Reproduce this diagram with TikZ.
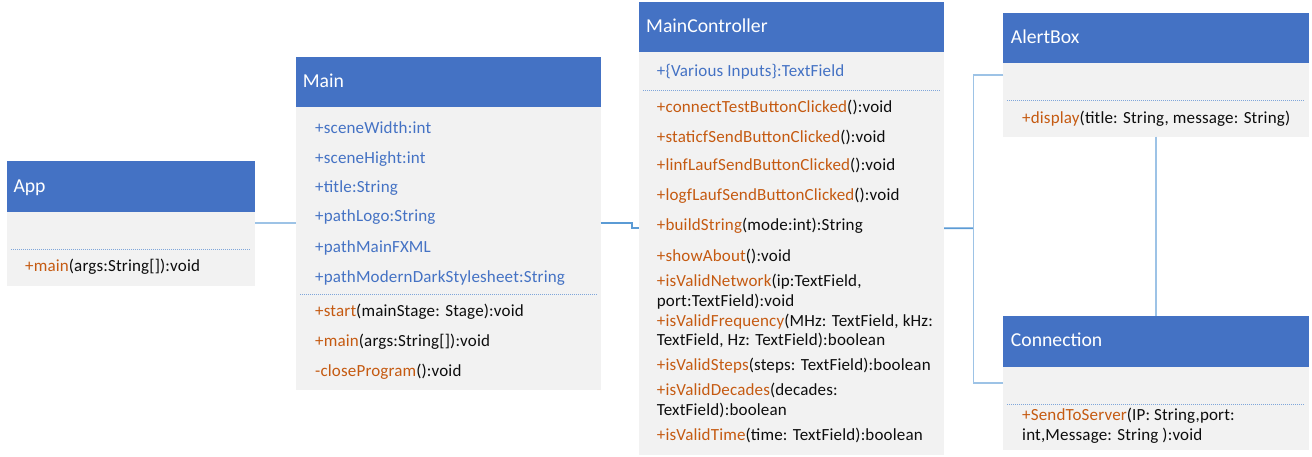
\documentclass[tikz,border=0pt]{standalone}
\usepackage{fontspec}
\setmainfont{Carlito}
\newfontfamily\memfont{Carlito}[LetterSpace=1]
\definecolor{hdrc}{HTML}{4472C4}
\definecolor{bodyc}{HTML}{F2F2F2}
\definecolor{attrc}{HTML}{4472C4}
\definecolor{methc}{HTML}{C55A11}
\definecolor{txtc}{HTML}{0D0D0D}
\definecolor{linelt}{HTML}{9DC3E6}
\definecolor{linemd}{HTML}{5B9BD5}
\definecolor{dotc}{HTML}{7FA6DA}
\newcommand{\mn}[1]{\textcolor{methc}{#1}}
\tikzset{
  x=1pt, y=-1pt,
  bodybox/.style={fill=bodyc, draw=none, anchor=north west, inner sep=0pt, outer sep=0pt},
  hdrbox/.style={fill=hdrc, draw=none, anchor=north west, inner sep=0pt, outer sep=0pt},
  htext/.style={anchor=base west, inner sep=0pt, text=white, font=\fontsize{19.7}{21}\selectfont},
  atext/.style={anchor=base west, inner sep=0pt, text=attrc, font=\memfont\fontsize{17}{19}\selectfont},
  mtext/.style={anchor=base west, inner sep=0pt, text=txtc, font=\memfont\fontsize{17}{19}\selectfont},
  sepline/.style={draw=dotc, line width=0.8pt, dash pattern=on 1pt off 1pt},
  linkl/.style={draw=linelt, line width=1.8pt},
  linkm/.style={draw=linemd, line width=1.8pt},
}
\begin{document}
\begin{tikzpicture}
\useasboundingbox (0,0) rectangle (1312,457);
\fill[white] (0,0) rectangle (1312,457);

% ---------- boxes ----------
\node[bodybox, minimum width=248.3pt, minimum height=124.7pt] (app) at (6.7,161) {};
\node[hdrbox, minimum width=248.3pt, minimum height=51.3pt] (apph) at (6.7,161) {};
\node[bodybox, minimum width=304.7pt, minimum height=333.3pt] (main) at (296,56.7) {};
\node[hdrbox, minimum width=304.7pt, minimum height=50.6pt] (mainh) at (296,56.7) {};
\node[bodybox, minimum width=305pt, minimum height=452.7pt] (mc) at (639,2) {};
\node[hdrbox, minimum width=305pt, minimum height=50.3pt] (mch) at (639,2) {};
\node[bodybox, minimum width=305.2pt, minimum height=124pt] (alert) at (1003.3,12.7) {};
\node[hdrbox, minimum width=305.2pt, minimum height=50.6pt] (alerth) at (1003.3,12.7) {};
\node[bodybox, minimum width=305.2pt, minimum height=134.3pt] (conn) at (1003.3,315.7) {};
\node[hdrbox, minimum width=305.2pt, minimum height=51pt] (connh) at (1003.3,315.7) {};

% ---------- connectors ----------
\draw[linkl] (app.east) -- (main.west);
\draw[linkm] (main.east) -- ++(31.5,0) |- (mc.west);
\coordinate (junc) at (973.5,228.3);
\draw[linkm] (mc.east) -- (junc);
\draw[linkl] (alert.west) -| (junc) |- (conn.west);
\draw[linkl] (alert.south) -- (conn.north);

% ---------- App ----------
\node[htext] (appt) at (13.3,192.3) {App};
\draw[sepline] (11,249.3) -- (251,249.3);
\node[mtext] (appm1) at (25,271.7) {\mn{+main}(args:String[]):void};

% ---------- Main ----------
\node[htext] (maint) at (302.7,88) {Main};
\node[atext] (maina1) at (315,133.3) {+sceneWidth:int};
\node[atext] (maina2) at (315,163.3) {+sceneHight:int};
\node[atext] (maina3) at (315,192.7) {+title:String};
\node[atext] (maina4) at (315,222) {+pathLogo:String};
\node[atext] (maina5) at (315,252) {+pathMainFXML};
\node[atext] (maina6) at (315,282.3) {+pathModernDarkStylesheet:String};
\draw[sepline] (300,294.3) -- (597,294.3);
\node[mtext] (mainm1) at (315,316.7) {\mn{+start}(mainStage: Stage):void};
\node[mtext] (mainm2) at (315,346) {\mn{+main}(args:String[]):void};
\node[mtext] (mainm3) at (315,376) {\mn{-closeProgram}():void};

% ---------- MainController ----------
\node[htext] (mct) at (646,32.3) {MainController};
\node[atext] (mca1) at (656.7,77) {+\{Various Inputs\}:TextField};
\draw[sepline] (643,90) -- (940,90);
\node[mtext] (mcm1) at (656.7,112.7) {\mn{+connectTestButtonClicked}():void};
\node[mtext] (mcm2) at (656.7,142.3) {\mn{+staticfSendButtonClicked}():void};
\node[mtext] (mcm3) at (656.7,171) {\mn{+linfLaufSendButtonClicked}():void};
\node[mtext] (mcm4) at (656.7,200.7) {\mn{+logfLaufSendButtonClicked}():void};
\node[mtext] (mcm5) at (656.7,231) {\mn{+buildString}(mode:int):String};
\node[mtext] (mcm6) at (656.7,261.7) {\mn{+showAbout}():void};
\node[mtext] (mcm7a) at (656.7,286.7) {\mn{+isValidNetwork}(ip:TextField,};
\node[mtext] (mcm7b) at (656.7,306) {port:TextField):void};
\node[mtext] (mcm8a) at (656.7,326.7) {\mn{+isValidFrequency}(MHz: TextField, kHz:};
\node[mtext] (mcm8b) at (656.7,345) {TextField, Hz: TextField):boolean};
\node[mtext] (mcm9) at (656.7,370.7) {\mn{+isValidSteps}(steps: TextField):boolean};
\node[mtext] (mcm10a) at (656.7,395.7) {\mn{+isValidDecades}(decades:};
\node[mtext] (mcm10b) at (656.7,415) {TextField):boolean};
\node[mtext] (mcm11) at (656.7,440.7) {\mn{+isValidTime}(time: TextField):boolean};

% ---------- AlertBox ----------
\node[htext] (alertt) at (1010.7,44) {AlertBox};
\draw[sepline] (1007,100.7) -- (1304,100.7);
\node[mtext] (alertm1) at (1022,124) {\mn{+display}(title: String, message: String)};

% ---------- Connection ----------
\node[htext] (connt) at (1010.7,346.7) {Connection};
\draw[sepline] (1007,404) -- (1304,404);
\node[mtext] (connm1a) at (1022,420.7) {\mn{+SendToServer}(IP: String,port:};
\node[mtext] (connm1b) at (1022,440) {int,Message: String ):void};
\end{tikzpicture}
\end{document}
